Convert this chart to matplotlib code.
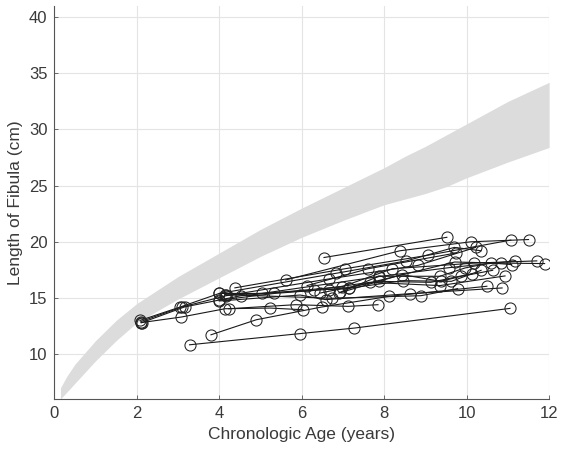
import numpy as np
import matplotlib.pyplot as plt

plt.rcParams['font.family'] = ['Liberation Sans', 'DejaVu Sans']

# reference band (normal range)
band_x = [0.15, 0.3, 0.5, 1, 1.5, 2, 3, 4, 5, 6, 7, 8, 8.5, 9, 9.5, 10, 11, 12]
band_upper = [7.0, 8.0, 9.1, 11.2, 13.0, 14.5, 16.9, 19.0, 21.1, 23.0, 24.8, 26.6, 27.6, 28.5, 29.5, 30.5, 32.5, 34.2]
band_lower = [6.0, 6.6, 7.4, 9.4, 11.2, 12.8, 14.9, 16.8, 18.7, 20.4, 21.9, 23.3, 23.8, 24.3, 24.9, 25.7, 27.1, 28.4]

# patient measurements (age in years, fibula length in cm)
ages = [
    [6.54, 9.52],
    [5.61, 8.38, 10.10, 11.50],
    [4.38, 7.05, 9.06, 11.07],
    [4.00, 6.84, 8.54, 9.70, 10.35],
    [2.10, 3.10, 4.17, 6.67, 8.82, 10.22],
    [6.13, 7.61, 9.74],
    [2.08, 3.06, 4.00, 5.03, 7.87, 9.58, 11.18],
    [2.12, 3.16, 4.53, 6.98, 8.20, 10.17, 11.70],
    [4.00, 5.33, 7.14, 9.71, 10.83, 11.89],
    [2.10, 3.08, 4.14, 5.23, 6.03],
    [3.80, 4.90, 6.48, 8.12, 10.49],
    [4.23, 5.85, 7.13, 7.85],
    [4.00, 5.96, 6.58, 8.62, 10.86],
    [4.14, 6.74, 8.89, 9.78],
    [4.17, 6.29, 7.65, 9.35, 10.93],
    [6.45, 7.87, 9.13, 10.14],
    [6.65, 7.14, 8.46, 9.63, 10.35],
    [6.90, 8.43, 9.37, 9.87, 10.63],
    [6.93, 7.87, 9.35, 9.96, 10.58, 11.09],
    [3.28, 5.97, 7.28, 11.05],
]
lengths = [
    [18.6, 20.4],
    [16.6, 19.2, 20.0, 20.2],
    [15.9, 17.6, 18.8, 20.15],
    [15.4, 17.2, 18.3, 19.5, 19.2],
    [12.9, 14.2, 15.2, 16.7, 17.9, 19.5],
    [16.1, 17.6, 19.0],
    [13.0, 14.2, 15.4, 15.4, 16.9, 17.7, 18.3],
    [12.8, 14.2, 15.2, 16.0, 17.6, 18.1, 18.3],
    [14.8, 15.4, 15.9, 18.2, 18.1, 18.06],
    [12.8, 13.3, 14.04, 14.1, 13.95],
    [11.72, 13.06, 14.19, 15.14, 16.04],
    [14.04, 14.4, 14.25, 14.4],
    [14.73, 15.26, 14.85, 15.38, 15.89],
    [15.3, 14.97, 15.2, 15.83],
    [15.23, 15.68, 16.39, 16.1, 16.96],
    [15.44, 16.48, 16.39, 17.17],
    [15.74, 15.86, 16.54, 16.48, 17.46],
    [15.44, 17.08, 16.48, 16.93, 17.46],
    [15.5, 16.93, 16.93, 17.67, 18.12, 17.97],
    [10.83, 11.83, 12.32, 14.07],
]

fig = plt.figure(figsize=(5.63, 4.55), dpi=100)
ax = fig.add_axes([0.0964, 0.123, 0.879, 0.864])

ax.fill_between(band_x, band_lower, band_upper, color='#dcdcdc', linewidth=0, zorder=1)

for a, l in zip(ages, lengths):
    ax.plot(a, l, '-o', color='#1a1a1a', linewidth=0.8, markersize=8,
            markerfacecolor='none', markeredgecolor='#222222',
            markeredgewidth=0.75, zorder=3)

ax.set_xlim(0, 12)
ax.set_ylim(6, 41)
ax.set_xticks(np.arange(0, 13, 2))
ax.set_yticks(np.arange(10, 41, 5))
ax.grid(True, color='#e4e4e4', linewidth=0.8, zorder=0)
ax.set_axisbelow(True)

for s in ['top', 'right']:
    ax.spines[s].set_visible(False)
for s in ['left', 'bottom']:
    ax.spines[s].set_color('#555555')
    ax.spines[s].set_linewidth(0.8)

ax.tick_params(direction='in', length=3, width=0.6, colors='#555555',
               labelcolor='#3a3a3a', labelsize=12, pad=5)

ax.set_xlabel('Chronologic Age (years)', fontsize=12.5, color='#3a3a3a', labelpad=4)
ax.set_ylabel('Length of Fibula (cm)', fontsize=12.5, color='#3a3a3a', labelpad=4)

fig.savefig('out.png', dpi=100)
